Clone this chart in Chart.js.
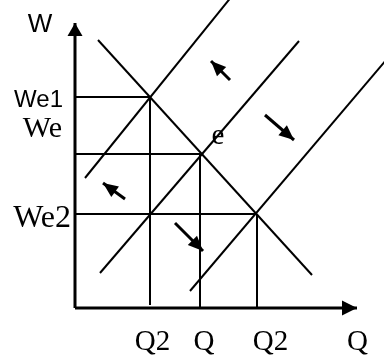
<!DOCTYPE html>
<html>
<head>
<meta charset="utf-8">
<script src="https://cdn.jsdelivr.net/npm/chart.js@4.4.1/dist/chart.umd.min.js"></script>
<style>
  html, body { margin: 0; padding: 0; background: #fff; }
  canvas { display: block; }
</style>
</head>
<body>
<canvas id="myChart" width="384" height="360"></canvas>
<script>
// wage levels (W axis) and quantity levels (Q axis)
const wageLevels = [211, 154, 94];
const wageLabels = ['We1', 'We', 'We2'];
const quantityLevels = [75, 125, 182];
const quantityLabels = ['Q2', 'Q', 'Q2', 'Q'];

// curves: [start, end] as [q, w]
const demand = [[23, 268], [237, 33]];
const supply1 = [[10, 130], [157, 312]];
const supply2 = [[25, 35], [224, 267]];
const supply3 = [[115, 17], [312, 249]];

// shift arrows: [tail, tip]
const shifts = [
  [[155, 228], [136, 247]],
  [[190, 193], [219, 168]],
  [[50, 109], [28, 125]],
  [[100, 85], [128, 57]]
];

// axis extents
const wAxisTop = 285;
const qAxisEnd = 282;

const toPts = (arr) => arr.map(p => ({ x: p[0], y: p[1] }));

function lineSet(points, width, extra) {
  return Object.assign({
    data: toPts(points),
    showLine: true,
    borderColor: '#000',
    borderWidth: width,
    pointRadius: 0,
    fill: false
  }, extra || {});
}

const datasets = [];

// guide lines from the axes to the equilibria
for (let i = 0; i < 3; i++) {
  datasets.push(lineSet([[0, wageLevels[i]], [quantityLevels[i], wageLevels[i]]], 2));
}
datasets.push(lineSet([[quantityLevels[0], wageLevels[0]], [quantityLevels[0], 3]], 2));
datasets.push(lineSet([[quantityLevels[1], wageLevels[1]], [quantityLevels[1], 0]], 2));
datasets.push(lineSet([[quantityLevels[2], wageLevels[2]], [quantityLevels[2], 0]], 2));

// demand and supply
[demand, supply1, supply2, supply3].forEach(c => datasets.push(lineSet(c, 2)));

// axes
datasets.push(lineSet([[0, 0], [0, wAxisTop]], 3, { head: { len: 13, wid: 15 } }));
datasets.push(lineSet([[0, 0], [qAxisEnd, 0]], 3, { head: { len: 15, wid: 15 } }));

// shift arrows
shifts.forEach(a => datasets.push(lineSet(a, 3, { head: { len: 15, wid: 13 } })));

// text labels: [text, q, w, align, font]
const sans = '"Liberation Sans", Arial, sans-serif';
const serif = '"Liberation Serif", "Times New Roman", serif';
const labels = [
  ['W', -35, 276, 'center', '26px ' + sans],
  [wageLabels[0], -12, 201, 'right', '24px ' + sans],
  [wageLabels[1], -13, 171, 'right', '30px ' + serif],
  [wageLabels[2], -4, 81, 'right', '32px ' + serif],
  ['e', 143, 164, 'center', '29px ' + serif],
  [quantityLabels[0], 77.5, -42, 'center', '29px ' + serif],
  [quantityLabels[1], 129, -42, 'center', '29px ' + serif],
  [quantityLabels[2], 195.5, -42, 'center', '29px ' + serif],
  [quantityLabels[3], 282.5, -42, 'center', '29px ' + serif]
];

const arrowHeads = {
  id: 'arrowHeads',
  afterDatasetsDraw(chart) {
    const ctx = chart.ctx;
    chart.data.datasets.forEach((ds, i) => {
      if (!ds.head) return;
      const pts = chart.getDatasetMeta(i).data;
      const a = pts[pts.length - 2], b = pts[pts.length - 1];
      const ang = Math.atan2(b.y - a.y, b.x - a.x);
      const l = ds.head.len, w = ds.head.wid / 2;
      ctx.save();
      ctx.translate(b.x, b.y);
      ctx.rotate(ang);
      ctx.beginPath();
      ctx.moveTo(0, 0);
      ctx.lineTo(-l, -w);
      ctx.lineTo(-l, w);
      ctx.closePath();
      ctx.fillStyle = '#000';
      ctx.fill();
      ctx.restore();
    });
  }
};

const textLabels = {
  id: 'textLabels',
  afterDraw(chart) {
    const ctx = chart.ctx;
    const xs = chart.scales.x, ys = chart.scales.y;
    ctx.save();
    ctx.fillStyle = '#000';
    ctx.textBaseline = 'alphabetic';
    labels.forEach(l => {
      ctx.font = l[4];
      ctx.textAlign = l[3];
      ctx.fillText(l[0], xs.getPixelForValue(l[1]), ys.getPixelForValue(l[2]));
    });
    ctx.restore();
  }
};

const ctx = document.getElementById('myChart').getContext('2d');
const chart = new Chart(ctx, {
  type: 'scatter',
  data: { datasets: datasets },
  options: {
    responsive: false,
    devicePixelRatio: 1,
    animation: false,
    events: [],
    layout: { padding: 0 },
    plugins: { legend: { display: false }, tooltip: { enabled: false } },
    scales: {
      x: { type: 'linear', min: -75, max: 309, display: false },
      y: { type: 'linear', min: -52, max: 308, display: false }
    }
  },
  plugins: [arrowHeads, textLabels]
});
</script>
</body>
</html>
